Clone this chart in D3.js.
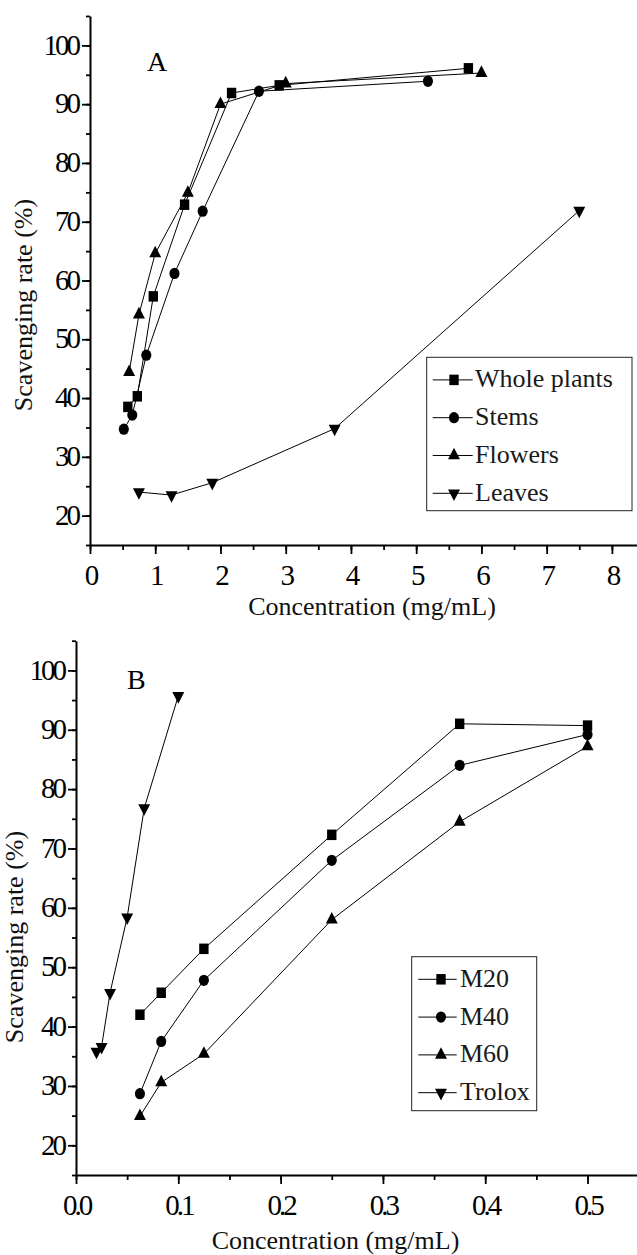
<!DOCTYPE html>
<html>
<head>
<meta charset="utf-8">
<script src="https://cdn.jsdelivr.net/npm/d3@7"></script>
<style>
  body { margin: 0; background: #fff; }
  svg { display: block; font-family: "Liberation Serif", "Times New Roman", serif; }
</style>
</head>
<body>
<div id="chart"></div>
<script>
// panel A: scavenging rate of the plant parts
var namesA = ["Whole plants", "Stems", "Flowers", "Leaves"];
var wholeX = [0.58, 0.725, 0.97, 1.45, 2.17, 2.9, 5.8];
var wholeY = [38.5, 40.3, 57.3, 72.9, 91.9, 93.2, 96.1];
var stemsX = [0.518, 0.648, 0.863, 1.295, 1.727, 2.59, 5.18];
var stemsY = [34.7, 37.1, 47.3, 61.2, 71.8, 92.2, 93.9];
var flowersX = [0.6, 0.75, 1, 1.5, 2, 3, 6];
var flowersY = [44.4, 54.2, 64.6, 74.9, 90.0, 93.5, 95.3];
var leavesX = [0.75, 1.25, 1.875, 3.75, 7.5];
var leavesY = [24.0, 23.5, 25.6, 34.8, 71.9];
var xTicksA = [0, 1, 2, 3, 4, 5, 6, 7, 8];

// panel B: fractions against trolox
var namesB = ["M20", "M40", "M60", "Trolox"];
var concB = [0.0625, 0.0833, 0.125, 0.25, 0.375, 0.5];
var m20Y = [42.0, 45.7, 53.1, 72.3, 91.0, 90.7];
var m40Y = [28.7, 37.5, 47.8, 68.0, 84.0, 89.2];
var m60Y = [24.9, 30.6, 35.4, 58.0, 74.5, 87.2];
var troloxX = [0.02, 0.025, 0.0333, 0.05, 0.0667, 0.1];
var troloxY = [35.8, 36.6, 45.7, 58.4, 76.8, 95.7];
var xTicksB = [0, 0.1, 0.2, 0.3, 0.4, 0.5];

// shared y ticks
var yTicks = [20, 30, 40, 50, 60, 70, 80, 90, 100];

var shapes = ["square", "circle", "up", "down"];

var serif = "'Liberation Serif', 'Times New Roman', serif";

var svgWidth = 637;
var svgHeight = 1255;

var svg = d3.select("#chart")
    .append("svg")
    .attr("width", svgWidth)
    .attr("height", svgHeight);

// draw one marker symbol
function marker(g, shape, x, y) {
    var sym;
    if (shape == "square") sym = d3.symbol().type(d3.symbolSquare).size(88);
    else if (shape == "circle") sym = d3.symbol().type(d3.symbolCircle).size(80);
    else sym = d3.symbol().type(d3.symbolTriangle).size(62);
    var rot = shape == "down" ? " rotate(180)" : "";
    g.append("path")
        .attr("d", sym())
        .attr("transform", `translate(${x}, ${y}) scale(1, 1.12)${rot}`)
        .attr("fill", "#000");
}

function drawPanel(p) {
    var g = svg.append("g");

    var x = d3.scaleLinear().domain(p.xDomain).range(p.xRange);
    var y = d3.scaleLinear().domain([15, 105]).range(p.yRange);

    // minor ticks
    g.append("g")
        .attr("transform", `translate(0, ${p.yRange[0]})`)
        .call(d3.axisBottom(x).tickValues(p.xMinor).tickSize(5).tickSizeOuter(0).tickFormat(""))
        .call(a => a.select(".domain").remove());
    g.append("g")
        .attr("transform", `translate(${p.xRange[0]}, 0)`)
        .call(d3.axisLeft(y).tickValues(d3.range(15, 106, 5)).tickSize(4).tickSizeOuter(0).tickFormat(""))
        .call(a => a.select(".domain").remove());

    // major ticks with labels
    var xAxis = g.append("g")
        .attr("transform", `translate(0, ${p.yRange[0]})`)
        .call(d3.axisBottom(x).tickValues(p.xTicks).tickSize(9).tickSizeOuter(0).tickFormat(p.fmt));
    var yAxis = g.append("g")
        .attr("transform", `translate(${p.xRange[0]}, 0)`)
        .call(d3.axisLeft(y).tickValues(yTicks).tickSize(8).tickSizeOuter(0));

    g.selectAll(".tick line").attr("stroke", "#000").attr("stroke-width", 1.8);
    g.selectAll(".domain").attr("stroke", "#000").attr("stroke-width", 2);

    xAxis.selectAll("text")
        .attr("y", 40).attr("dy", 0)
        .attr("font-size", "29px")
        .style("letter-spacing", "-3px")
        .style("font-family", serif)
        .attr("fill", "#000");
    yAxis.selectAll("text")
        .attr("x", -12).attr("dy", "0.3em")
        .attr("font-size", "29px")
        .style("letter-spacing", "-3px")
        .style("font-family", serif)
        .attr("fill", "#000");

    // series lines and markers
    var line = d3.line().x(d => x(d[0])).y(d => y(d[1]));
    p.series.forEach(function(s) {
        var pts = s.xs.map((v, i) => [v, s.ys[i]]);
        g.append("path")
            .attr("d", line(pts))
            .attr("fill", "none")
            .attr("stroke", "#000")
            .attr("stroke-width", 1);
        pts.forEach(function(d) {
            marker(g, s.shape, x(d[0]), y(d[1]));
        });
    });

    // panel letter
    g.append("text")
        .attr("x", p.letter[1])
        .attr("y", p.letter[2])
        .attr("font-size", "28px")
        .style("font-family", serif)
        .text(p.letter[0]);

    // axis titles
    g.append("text")
        .attr("x", p.xTitle[0])
        .attr("y", p.xTitle[1])
        .attr("text-anchor", "middle")
        .attr("font-size", "26px")
        .style("font-family", serif)
        .attr("fill", "#111")
        .text("Concentration (mg/mL)");

    g.append("text")
        .attr("transform", `translate(${p.yTitle[0]}, ${p.yTitle[1]}) rotate(-90)`)
        .attr("text-anchor", "middle")
        .attr("font-size", "26px")
        .style("font-family", serif)
        .attr("fill", "#111")
        .text("Scavenging rate (%)");

    // legend
    var lg = g.append("g").attr("transform", `translate(${p.legend.x}, ${p.legend.y})`);
    lg.append("rect")
        .attr("width", p.legend.w)
        .attr("height", p.legend.h)
        .attr("fill", "#fff")
        .attr("stroke", "#222")
        .attr("stroke-width", 1);
    p.series.forEach(function(s, i) {
        var ly = 22.6 + i * 37.8;
        lg.append("line")
            .attr("x1", p.legend.l0).attr("x2", p.legend.l1)
            .attr("y1", ly).attr("y2", ly)
            .attr("stroke", "#000").attr("stroke-width", 1);
        marker(lg, s.shape, p.legend.m, ly);
        lg.append("text")
            .attr("x", p.legend.t)
            .attr("y", ly + 7.5)
            .attr("font-size", "26px")
            .style("font-family", serif)
            .attr("fill", "#1a1a1a")
            .text(s.name);
    });
}

drawPanel({
    xDomain: [0, 8.4],
    xRange: [90, 638],
    yRange: [545, 16],
    xTicks: xTicksA,
    xMinor: d3.range(0, 8.01, 0.5),
    fmt: d3.format("d"),
    letter: ["A", 147, 71],
    xTitle: [372, 615],
    yTitle: [32, 305],
    legend: {x: 426.7, y: 357.3, w: 205.3, h: 153.4, l0: 6, l1: 46, m: 27.3, t: 48.3},
    series: [
        {name: namesA[0], xs: wholeX, ys: wholeY, shape: shapes[0]},
        {name: namesA[1], xs: stemsX, ys: stemsY, shape: shapes[1]},
        {name: namesA[2], xs: flowersX, ys: flowersY, shape: shapes[2]},
        {name: namesA[3], xs: leavesX, ys: leavesY, shape: shapes[3]}
    ]
});

drawPanel({
    xDomain: [0, 0.55],
    xRange: [76, 638.7],
    yRange: [1175, 640.7],
    xTicks: xTicksB,
    xMinor: d3.range(0, 0.551, 0.05),
    fmt: d3.format(".1f"),
    letter: ["B", 127, 689],
    xTitle: [335.5, 1249],
    yTitle: [23, 937],
    legend: {x: 411.7, y: 956.7, w: 125, h: 154, l0: 6.6, l1: 45, m: 29.3, t: 48.3},
    series: [
        {name: namesB[0], xs: concB, ys: m20Y, shape: shapes[0]},
        {name: namesB[1], xs: concB, ys: m40Y, shape: shapes[1]},
        {name: namesB[2], xs: concB, ys: m60Y, shape: shapes[2]},
        {name: namesB[3], xs: troloxX, ys: troloxY, shape: shapes[3]}
    ]
});
</script>
</body>
</html>
